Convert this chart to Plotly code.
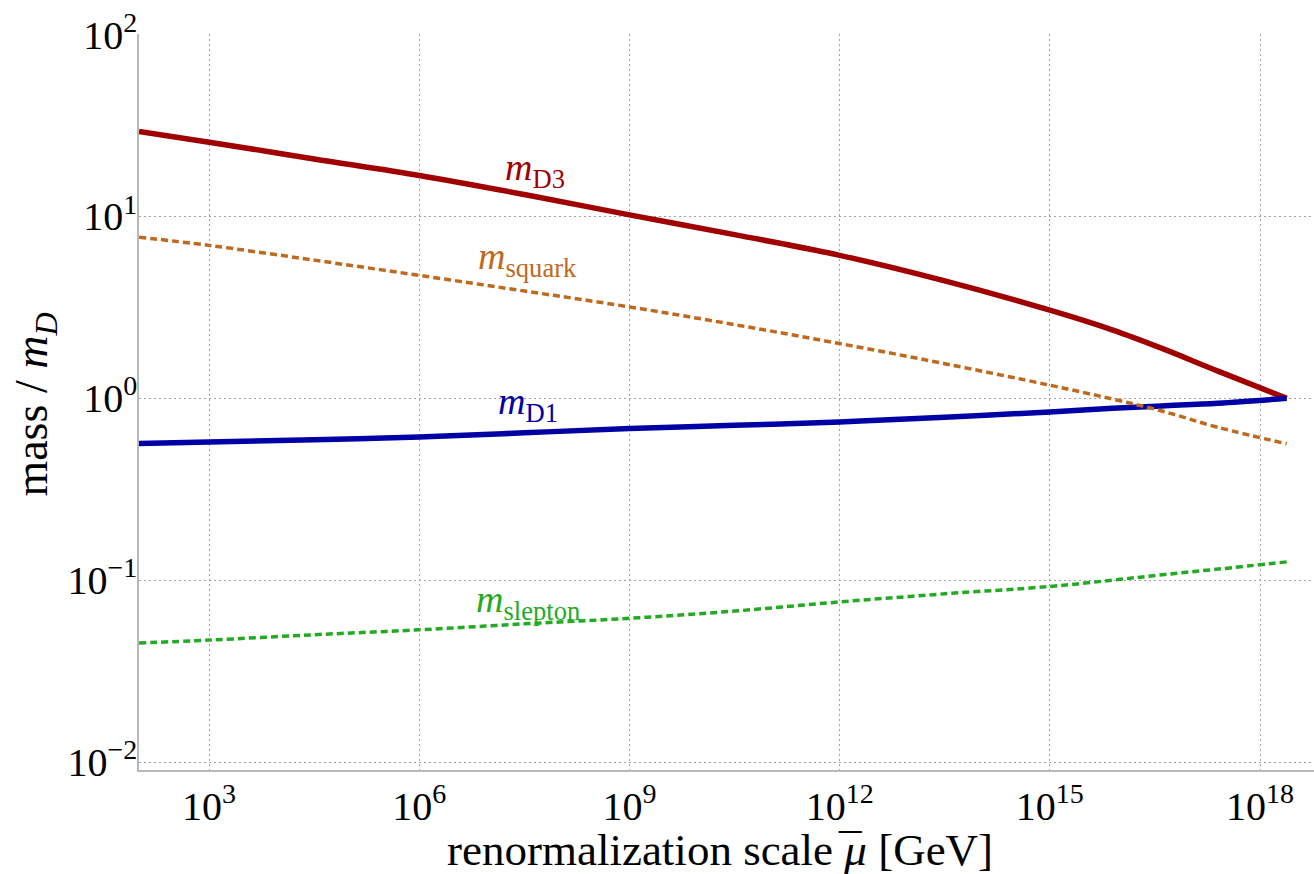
import plotly.graph_objects as go

# renormalization scale mu [GeV]
mu = [1e2, 1e3, 3.16e4, 1e6, 3.16e7, 1e9, 3.16e10, 1e12, 3.16e13, 1e15,
      7.94e15, 3.98e16, 2.51e17, 2.4e18]

m_D3 = [29.3, 25.6, 20.7, 16.8, 13.2, 10.2, 7.94, 6.11, 4.42, 3.05,
        2.37, 1.88, 1.41, 1.0]
m_squark = [7.69, 6.93, 5.75, 4.74, 3.89, 3.18, 2.54, 2.00, 1.55, 1.18,
            0.989, 0.851, 0.692, 0.562]
m_D1 = [0.564, 0.575, 0.592, 0.612, 0.646, 0.681, 0.710, 0.741, 0.787, 0.841,
        0.881, 0.908, 0.940, 1.0]
m_slepton = [0.0451, 0.0468, 0.0501, 0.0533, 0.0575, 0.0617, 0.0676, 0.0759,
             0.0841, 0.0923, 0.100, 0.107, 0.115, 0.126]

x_tickvals = [1e3, 1e6, 1e9, 1e12, 1e15, 1e18]
x_ticktext = ["10<sup>3</sup>", "10<sup>6</sup>", "10<sup>9</sup>",
              "10<sup>12</sup>", "10<sup>15</sup>", "10<sup>18</sup>"]
y_tickvals = [1e-2, 1e-1, 1e0, 1e1, 1e2]
y_ticktext = ["10<sup>\u22122</sup>", "10<sup>\u22121</sup>", "10<sup>0</sup>",
              "10<sup>1</sup>", "10<sup>2</sup>"]

RED = "rgb(160,0,0)"
BLUE = "rgb(0,0,165)"
ORANGE = "rgb(190,105,30)"
GREEN = "rgb(35,170,35)"
FONT = "Liberation Serif"

fig = go.Figure()
fig.add_trace(go.Scatter(x=mu, y=m_D3, mode="lines", line=dict(color=RED, width=5.5, shape="spline")))
fig.add_trace(go.Scatter(x=mu, y=m_D1, mode="lines", line=dict(color=BLUE, width=5.5, shape="spline")))
fig.add_trace(go.Scatter(x=mu, y=m_squark, mode="lines",
                         line=dict(color=ORANGE, width=3.5, dash="7px,4px", shape="spline")))
fig.add_trace(go.Scatter(x=mu, y=m_slepton, mode="lines",
                         line=dict(color=GREEN, width=3.5, dash="7px,4px", shape="spline")))

labels = [
    ("<i>m</i><sub>D3</sub>", 7.65, 1.253, RED),
    ("<i>m</i><sub>squark</sub>", 7.55, 0.765, ORANGE),
    ("<i>m</i><sub>D1</sub>", 7.55, -0.03, BLUE),
    ("<i>m</i><sub>slepton</sub>", 7.55, -1.121, GREEN),
]
annotations = []
for txt, xl, yl, col in labels:
    annotations.append(dict(text=txt, x=xl, y=yl, xref="x", yref="y", showarrow=False,
                            font=dict(family=FONT, size=38, color=col)))

annotations.append(dict(
    text="renormalization scale <i>\u03bc</i> [GeV]",
    x=0.4945, y=-0.109, xref="paper", yref="paper", showarrow=False,
    font=dict(family=FONT, size=45, color="black"),
    xanchor="center", yanchor="middle"))
# bar over mu
annotations.append(dict(
    text="\u00af",
    x=0.6055, y=-0.109, xref="paper", yref="paper", showarrow=False,
    font=dict(family=FONT, size=45, color="black"),
    xanchor="center", yanchor="middle"))
annotations.append(dict(text="mass / <i>m</i><sub><i>D</i></sub>",
                        x=-0.0885, y=0.4965, xref="paper", yref="paper", showarrow=False,
                        textangle=-90, font=dict(family=FONT, size=46, color="black"),
                        xanchor="center", yanchor="middle"))

fig.update_layout(
    width=1314, height=874,
    margin=dict(l=139, r=0, t=34, b=104),
    paper_bgcolor="white", plot_bgcolor="white",
    showlegend=False,
    font=dict(family=FONT, color="black"),
    annotations=annotations,
)
fig.update_xaxes(type="log", range=[2, 18.77], tickvals=x_tickvals, ticktext=x_ticktext,
                 showgrid=True, gridcolor="#a0a0a0", gridwidth=1, griddash="2px,3px",
                 showline=True, linecolor="#b8b8b8", linewidth=1.5, ticks="",
                 tickfont=dict(family=FONT, size=40, color="black"), zeroline=False)
fig.update_yaxes(type="log", range=[-2.044, 2.003], tickvals=y_tickvals, ticktext=y_ticktext,
                 showgrid=True, gridcolor="#a0a0a0", gridwidth=1, griddash="2px,3px",
                 showline=True, linecolor="#b8b8b8", linewidth=1.5, ticks="",
                 ticklabelstandoff=-8,
                 tickfont=dict(family=FONT, size=40, color="black"), zeroline=False)

fig.write_html("out.html")
